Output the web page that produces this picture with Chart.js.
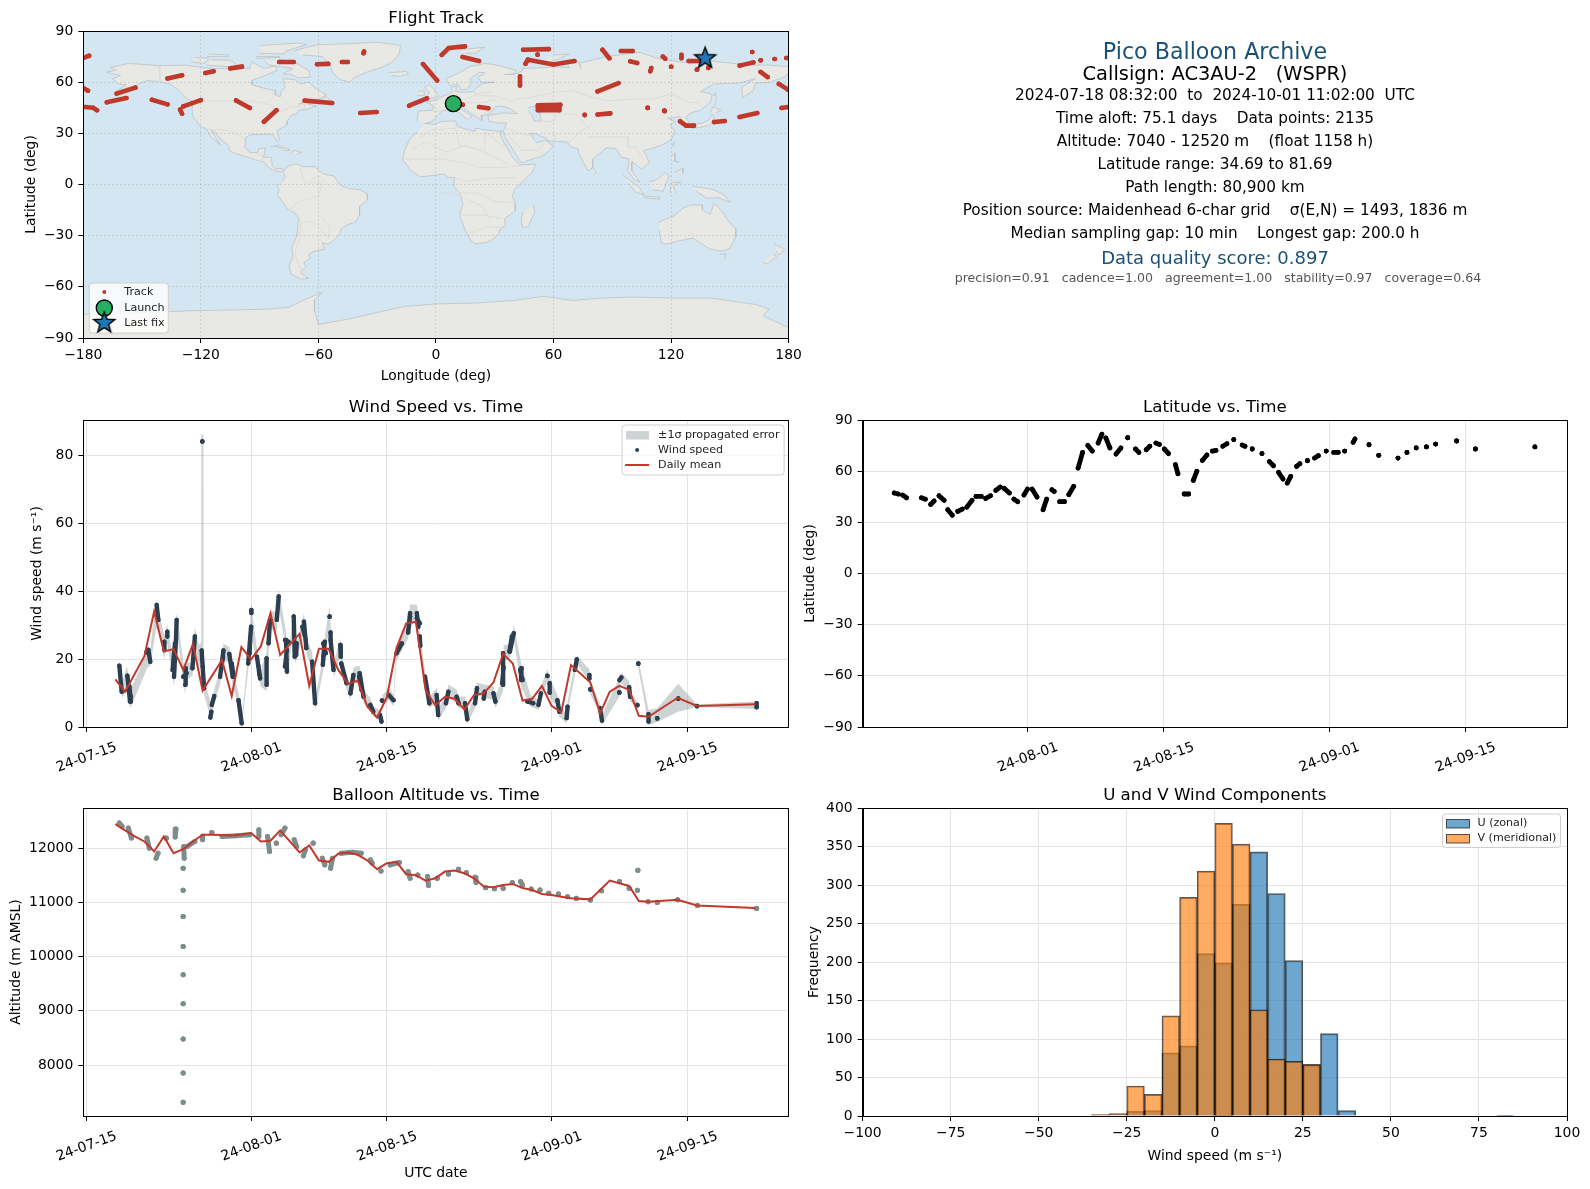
<!DOCTYPE html>
<html>
<head>
<meta charset="utf-8">
<title>Pico Balloon Archive</title>
<script src="https://cdn.jsdelivr.net/npm/chart.js@4"></script>
<style>
html, body { margin: 0; padding: 0; background: #fff; }
#page { position: relative; width: 1590px; height: 1189px; overflow: hidden; font-family: "DejaVu Sans", sans-serif; }
canvas { position: absolute; }
.info { position: absolute; left: 790px; width: 850px; text-align: center; white-space: pre; transform: translateY(-50%); color: #000; font-size: 15.3px; line-height: 1; }
</style>
</head>
<body>
<div id="page">
  <canvas id="trackChart" style="left:0;top:5px" width="845" height="383"></canvas>
  <canvas id="windChart" style="left:0;top:394px" width="845" height="395"></canvas>
  <canvas id="altChart" style="left:0;top:782px" width="845" height="404"></canvas>
  <canvas id="latChart" style="left:790px;top:394px" width="800" height="395"></canvas>
  <canvas id="histChart" style="left:790px;top:782px" width="800" height="404"></canvas>
  <div class="info" style="top:51px;font-size:22.2px;color:#1a5276">Pico Balloon Archive</div>
  <div class="info" style="top:74px;font-size:19.4px">Callsign: AC3AU-2   (WSPR)</div>
  <div class="info" style="top:96px">2024-07-18 08:32:00  to  2024-10-01 11:02:00  UTC</div>
  <div class="info" style="top:118.5px">Time aloft: 75.1 days    Data points: 2135</div>
  <div class="info" style="top:141.5px">Altitude: 7040 - 12520 m    (float 1158 h)</div>
  <div class="info" style="top:164.5px">Latitude range: 34.69 to 81.69</div>
  <div class="info" style="top:187.5px">Path length: 80,900 km</div>
  <div class="info" style="top:210.5px">Position source: Maidenhead 6-char grid    σ(E,N) = 1493, 1836 m</div>
  <div class="info" style="top:233.5px">Median sampling gap: 10 min    Longest gap: 200.0 h</div>
  <div class="info" style="top:257.5px;font-size:18px;color:#1a5276">Data quality score: 0.897</div>
  <div class="info" style="top:278px;left:793px;font-size:12.55px;color:#555">precision=0.91   cadence=1.00   agreement=1.00   stability=0.97   coverage=0.64</div>
</div>
<script>
// days are counted from 2024-07-15 00:00 UTC
var dateTicks = [0, 17, 31, 48, 62];
var dateTickLabels = ["24-07-15", "24-08-01", "24-08-15", "24-09-01", "24-09-15"];
var lonTicks = [-180, -120, -60, 0, 60, 120, 180];
var latTicks = [-90, -60, -30, 0, 30, 60, 90];
var windTicks = [0, 20, 40, 60, 80];
var altTicks = [8000, 9000, 10000, 11000, 12000];
var histTicks = [-100, -75, -50, -25, 0, 25, 50, 75, 100];
var freqTicks = [0, 50, 100, 150, 200, 250, 300, 350, 400];

// track, [lon, lat] runs split by null
var trackLon = [-180,-177,null,-180,-177.6,null,-179,-175,-173,null,-168,-158,null,-163,-153.4,null,-145,-137,null,-130.6,-129.6,null,-129,-120,null,-137,-129.6,null,-117.7,-113.5,null,-105,-99,null,-102,-95,null,-87.8,-81.4,null,-80,-72.6,null,-67,-53,null,-60.7,-55,null,-48,-45,null,-37,-36.7,null,-38.6,-30.3,null,-13.7,-4.6,null,-6.6,0.6,null,3,6.5,14.8,null,13.6,22,null,13.6,13.7,null,22,26.7,null,42.9,42.9,null,44.5,57.6,null,51.9,51.9,null,45.7,46.9,60,70.7,null,52,63.5,null,52,63,null,52,63,null,75.9,75.9,null,82.5,89,null,82.5,93.2,null,85,88.5,null,94.4,100.4,null,99.2,102.7,null,109.4,109.9,null,108,108.2,null,116.5,116.7,null,115.8,117,null,120,120.2,null,125.3,125.3,null,129,138.4,null,133.2,133.3,null,139,139.1,null,124.6,127.7,131.7,null,142,147.4,null,155,164,null,161.4,161.5,null,165.7,165.8,null,155,162,null,165.7,169.3,null,172.8,173,null,178.8,180,null,175,179.7,null,176.4,179.7];
var trackLat = [74.2,75.5,null,56.6,55,null,45.4,45,43.5,null,48.2,50.7,null,53.3,56.8,null,49.7,47,null,43.9,41.5,null,45.8,49.5,null,62.2,64,null,65.4,66.4,null,68.1,69.1,null,49.3,44.9,null,36.8,43.5,null,71.8,71.8,null,49.2,47.8,null,70.5,70.7,null,71.8,71.8,null,77,78,null,41.9,42.5,null,46.2,50.5,null,70.6,61,null,76,80,81,null,74.8,72.4,null,46.8,46.8,null,45.4,44.7,null,63.4,58.1,null,79,79.4,null,76.1,76.2,null,70.8,73.2,70.3,72.4,null,46.5,46.8,null,45,45.2,null,43.5,43.6,null,40.7,40.8,null,41,41.7,null,54.6,59.5,null,79,74,null,78.3,78.3,null,72.2,71.2,null,66.4,68.3,null,44.9,44.9,null,43.3,43,null,75,73.8,null,69,69,null,76,74,null,72.4,72.4,null,67.3,67.5,null,68.3,68.5,null,37,34.5,34.5,null,36.6,37.2,null,39.6,41.9,null,77.7,77.7,null,72.8,72.8,null,69.7,71.6,null,66,63,null,73.6,73.6,null,74.2,74.2,null,59,55.6,null,44.9,45.4];
var launchLon = [8.9], launchLat = [47.4];
var lastFixLon = [137.4], lastFixLat = [74];

// wind speed runs
var windDay = [3.41,3.65,null,4.24,4.51,null,4.3,4.6,null,4.45,4.6,null,6.2,6.4,6.6,null,7.26,7.43,null,8.05,8.05,null,8.36,8.36,null,9.05,9.25,9.32,null,9.15,8.9,null,10.2,10.25,null,10,10.35,null,10.95,11.2,null,11.97,11.97,null,11.9,12,12.15,null,13.2,12.95,null,12.9,12.8,null,13.8,14.15,null,14.1,13.9,null,14.75,15.1,null,15,15.2,null,15.7,16.03,null,16.7,17,null,16.9,16.85,null,17.03,17.03,null,17.6,17.93,null,17.75,17.85,null,18.6,18.6,null,18.8,18.95,null,19.65,19.85,null,20.6,20.7,null,20.5,20.85,null,20.7,20.5,null,21.5,21.4,null,21.7,21.65,null,22.45,22.7,null,22.3,22.65,null,23.3,23.6,null,24.4,24.6,24.45,null,24.45,24.7,null,25.1,25.1,null,25.2,25.2,25.5,null,26.2,26.25,null,26.3,26.85,null,27.25,27.55,null,28.2,28.6,null,28.15,28.4,null,29.3,29.6,null,30.3,30.45,null,30.5,30.55,null,31.2,31.7,null,32,32.55,null,33.2,33.4,null,33.4,33.2,null,34.1,34.25,null,34.1,34.4,null,34.4,34.45,null,34.94,35.39,null,36.14,36.3,null,37.35,37.1,null,38.2,38.4,null,39.07,39.3,null,40.1,40.3,null,41.1,41,null,42,42.2,null,43,43,null,43.05,42.9,null,43.7,44.1,null,43.9,43.65,null,44.9,44.85,null,44.75,45,null,45.5,46.1,null,46.65,46.9,null,47.56,47.57,null,47.8,47.8,null,48.6,48.8,null,49.65,49.55,null,50.6,50.4,null,51.9,51.9,null,52,52,null,53,53.2,null,55,55.2,null,54.99,54.99,null,56,56.1,null,56.85,56.85,null,56.95,56.95,null,58,58,null,58.9,58.9,null,61.07,61.07,null,63,63,null,69.15,69.15];
var windSpeed = [18,10.4,null,15.1,7.5,null,11,9,null,11.9,7.5,null,22,22.7,19.2,null,35.9,31.5,null,25.1,22.7,null,28,26.6,null,14.8,25.6,31.5,null,24.6,16.8,null,12.4,17.3,null,14.8,15.8,null,17.3,26.6,null,84,84,null,22.5,17.8,11.4,null,9.1,6.5,null,4.5,2.8,null,14.8,22.5,null,20.5,17,null,21.5,14.8,null,18.7,14.8,null,7.9,1.1,null,18.7,29.5,null,25.6,21.7,null,34.4,33.5,null,20.7,14.3,null,18,15.5,null,20.2,12.4,null,24.6,31.5,null,31.5,38.4,null,25.6,16.3,null,25.6,25.1,null,22.7,17.8,null,20.7,32.5,null,24.6,21.2,null,31,23.2,null,29.5,25.6,null,19.2,7,null,18.3,25.1,20.7,null,24.6,21.7,null,32.5,32.4,null,27.8,25.6,16.8,null,24.1,20.7,null,18.7,12.9,null,9.9,15.3,null,15.8,8.9,null,14.8,10.9,null,6.5,4.5,null,3.5,1.6,null,7.8,7.7,null,9.4,7.9,null,21.7,24.6,null,28,33.5,null,32.5,27.8,null,33.5,29.5,null,32,30.5,null,26.6,23.9,null,14.8,7,null,9.4,3.5,null,10.4,7,null,8.9,7,null,7,2.3,null,7,11.4,null,10.4,8.4,null,9.9,7.5,null,12.4,21.7,null,17.6,12.9,null,22.2,27.6,null,26.6,22.2,null,17.3,13.8,null,16.8,13.8,null,7.5,7,null,6.5,9.9,null,15.1,15,null,12.9,10.1,null,7.9,4.5,null,6,2.6,null,19.9,16.8,null,15.3,14.3,null,11.1,11,null,5.5,1.9,null,13.8,14.6,null,10.2,10.1,null,11.7,8.9,null,6.5,6.4,null,18.7,18.6,null,3.8,1.6,null,2.6,2.5,null,8.4,8.3,null,6.2,6.1,null,7,5.8];

// +/- 1 sigma band
var bandDay = [3.3,3.7,4.2,4.55,5.5,6.3,6.6,7.2,7.45,8.05,8.35,9.05,9.3,9.35,10.2,10.3,10.95,11.2,11.6,11.85,11.86,12.08,12.09,12.15,12.9,13.2,13.8,14.15,14.75,15.1,15.7,16.05,16.7,17,17.6,17.95,18.6,18.95,19.65,19.85,20.6,20.75,21.4,21.55,22.45,22.75,23.3,23.65,24.4,24.65,25.1,25.25,25.55,26.2,26.35,26.85,27.25,27.55,28.2,28.6,29.3,29.6,30.3,30.45,30.55,31.2,31.7,32,32.55,33.2,33.4,34.1,34.3,34.45,34.95,35.4,36.15,36.3,37.1,37.35,38.2,38.4,39.1,39.3,40.1,40.3,41.1,42,42.2,43,43.05,43.7,44.1,44.85,45.8,46.65,46.9,47.56,47.8,48.6,48.8,49.55,49.65,50.4,50.6,51.9,52,53,53.2,54.99,55.2,56,56.1,56.85,56.95,58,58.9,61.07,63,69.15];
var bandLow = [15,8.5,11,5.5,12,17.5,18,29,28,20,24.5,12,20,28,9.5,14,15,23,17,20,20,18,18,9.5,2,7,12.5,19.5,19,12,6,0.5,16.5,27,18.5,12,10.5,29,28,35,23,14.5,29,18.5,28,21,17,5,16,22.5,29,23,14.5,21.5,16.5,11,8,13.5,14,7,5,3,2,0.5,6,8,6,19.5,22.5,26,31,31,27,21.5,13,5.5,7.5,2,5.5,8.5,7,5.5,5.5,1,5.5,9.5,8.5,8,5.5,10.5,19.5,20,25.5,12,6,5,8,13.5,8.5,6,3,1,4.5,15,18.5,13.5,9.5,4,0.5,9,13,10,7.5,5.5,17.5,0.5,1.5,4.5,5.9,5.3];
var bandHigh = [20,13,18,11,17,24,23,37.5,34,27,30,18,33,33.5,15,19,19,29.5,24,25,86,86,23,14,6.5,11,17,24.5,23.5,17,10,3,21,36.5,23,16.5,22,34,34,40.5,28,19,34.5,23,33.5,26,22,9,20,27.5,35.5,28,19,26,21,15,12,17.5,18,11,8.5,6,5,3,9.5,11.5,9.5,24,27,30,36,36,32,26.5,16.5,9,11.5,5.5,9,12.5,11,9,9,4,9,13,12.5,12,9.5,14,24,24.5,30,19,9.5,8,12,17,14.5,9.5,6,4,7.5,18.5,21,17,13,7,3.5,14.5,16,13.5,10.5,7.5,20,5,5.5,12.7,6.6,7.5];

// daily mean of wind speed
var meanWindDay = [3,4,6,7,8,9,10,11,12,14,15,16,17,18,19,20,22,23,24,25,26,27,28,29,30,31,32,33,34,35,36,37,38,39,40,41,42,43,44,45,46,47,48,49,50,52,53,54,55,56,57,58,61,63,69];
var meanWind = [14,10.4,20.9,34,22.2,22.9,16.8,24.4,10.7,19.7,9.1,23.5,19.9,23.7,33.5,21.2,27.4,12.1,23,23,16.8,12.7,13.6,6,2.8,8.7,23.2,30.5,30.9,10.9,6.4,8.9,8.3,5.2,9.4,9.9,13.1,21.5,18.7,7.8,8.3,12.1,6.2,4.3,18.2,13.1,4,10.4,12.1,10.9,3.3,3,8.6,6.2,6.7];

// latitude runs
var latDay = [3.3,3.7,null,4.15,4.57,null,6.1,6.5,null,7.04,7.4,null,7.9,8.43,null,8.8,9.27,null,9.83,10.3,null,10.76,11.3,null,11.7,12.25,null,12.7,13.2,null,13.74,14.2,null,14.6,15.14,null,15.6,16,null,16.63,17,null,17.47,17.98,null,18.6,18.96,null,19.5,19.75,null,20.3,20.8,null,21.24,21.75,null,22.2,22.66,null,23.2,23.66,null,24.26,24.64,null,25.05,25.47,null,26.1,26.6,null,27.3,27.3,null,28.1,28.45,null,29.2,29.57,null,30.2,30.55,null,31.06,31.5,null,32.2,32.46,null,33.1,33.57,null,34.04,34.4,null,34.97,35.44,null,36,36.37,null,37.07,37.5,null,38.2,38.2,null,39.07,39.35,null,40.1,40.1,null,41.1,41.1,null,41.86,42.28,null,42.8,43.26,null,43.7,44.05,null,44.65,45,null,45.77,45.77,null,46.5,46.9,null,47.7,47.7,null,48.47,48.94,null,49.6,49.6,null,50.47,50.66,null,52.1,52.1,null,53.1,53.1,null,55.08,55.08,null,56,56,null,56.95,56.95,null,58,58,null,58.95,58.95,null,61.1,61.1,null,63.04,63.04,null,69.15,69.15];
var latValue = [47.2,46.6,null,46,44.4,null,44.4,43.6,null,40.5,42.5,null,45.6,42.9,null,37.4,34.2,null,36.4,37.8,null,38.9,42.9,null,45.2,45.2,null,44,45.6,null,48.7,50.7,null,49.9,47.2,null,43.6,42.1,null,46,49.5,null,49.5,44.8,null,37.4,43.6,null,49.1,48.1,null,42.1,42.1,null,46.2,51.1,null,61.8,71,null,75.1,71.8,null,76.5,81.7,null,79.5,73.6,null,70,73.6,null,79.6,79.6,null,73,71,null,72.6,74.6,null,76.5,75.7,null,73,70.3,null,63.8,58.5,null,46.6,46.6,null,54.6,59.9,null,66.3,69.5,null,71.8,72.2,null,74.6,76.1,null,78.5,78.5,null,75.3,74.6,null,73,73,null,70.3,70.3,null,65.6,63.2,null,59.3,55.4,null,53,56.9,null,62.8,64.4,null,66.1,66.1,null,67.7,69.1,null,71.8,71.8,null,71,71,null,71.8,71.8,null,76.9,78.9,null,75.5,75.5,null,69.3,69.3,null,67.7,67.7,null,71,71,null,73.6,73.6,null,74.2,74.2,null,75.9,75.9,null,77.7,77.7,null,73,73,null,74.2,74.2];

// altitude runs
var altDay = [3.4,3.7,null,4.33,4.65,null,6.25,6.5,null,7.2,7.4,null,8.25,8.25,null,9.25,9.17,null,10.05,10.1,null,9.99,9.99,null,9.99,9.99,null,9.99,9.99,null,9.99,9.99,null,9.99,9.99,null,9.99,9.99,null,9.99,9.99,null,9.99,9.99,null,9.99,9.99,null,10.4,11.2,null,12,12,null,12.95,12.95,null,14,15.45,16.85,null,17.8,17.8,null,18.7,18.9,null,19.6,19.6,null,20.5,20.1,null,21.45,21.7,null,22.4,22.6,null,23.4,23.4,null,24.35,24.6,null,25.2,25.4,null,26.3,27.45,28.37,null,29.3,29.5,null,30.4,30.4,null,31.35,32.3,null,33.2,33.4,null,34.2,34.2,null,35.2,35.3,null,36.2,36.2,null,37.35,37.35,null,38.4,38.4,null,39.2,39.2,null,40.1,40.2,null,41.2,41.2,null,42.1,42.1,null,43,43,null,43.95,43.95,null,44.8,45,null,45.9,45.9,null,46.8,46.8,null,47.7,47.7,null,48.7,48.7,null,49.65,49.65,null,50.55,50.55,null,52,52,null,53.15,53.15,null,55,55,null,56,56,null,56.9,56.9,null,56.85,56.85,null,57.95,57.95,null,58.9,58.9,null,61,61,null,63.05,63.05,null,69.15,69.15];
var altValue = [12463,12401,null,12370,12185,null,12185,12000,null,11815,11907,null,12185,12184,null,12352,12204,null,12030,11815,null,11630,11629,null,11222,11221,null,10741,10740,null,10185,10184,null,9667,9666,null,9130,9129,null,8481,8480,null,7852,7851,null,7315,7314,null,12030,12123,null,12154,12220,null,12290,12289,null,12216,12228,12247,null,12340,12216,null,12216,11938,null,12093,12092,null,12370,12247,null,12154,12030,null,11858,11969,null,12093,12092,null,11815,11691,null,11630,11815,null,11907,11926,11907,null,11784,11722,null,11580,11579,null,11691,11735,null,11568,11444,null,11506,11505,null,11475,11309,null,11444,11443,null,11525,11524,null,11611,11610,null,11549,11548,null,11463,11364,null,11272,11271,null,11253,11252,null,11259,11258,null,11364,11363,null,11383,11321,null,11247,11246,null,11228,11227,null,11167,11166,null,11154,11153,null,11105,11104,null,11074,11073,null,11043,11042,null,11216,11215,null,11383,11382,null,11259,11258,null,11593,11592,null,11222,11221,null,11012,11011,null,11000,10999,null,11049,11048,null,10944,10943,null,10889,10888];
var meanAltDay = [3,4,5,6,7,8,9,10,11,12,13,14,15,16,17,18,19,20,21,22,23,24,25,26,27,28,29,30,31,32,33,34,35,36,37,38,39,40,41,42,43,44,45,46,47,48,49,50,52,54,56,57,58,61,63,69];
var meanAlt = [12444,12327,12216,12123,11938,12216,11907,11981,12123,12247,12247,12241,12235,12253,12278,12123,12136,12327,12123,11920,12049,11772,11747,11895,11920,11877,11772,11611,11722,11747,11519,11500,11401,11444,11568,11586,11537,11444,11290,11278,11321,11340,11265,11228,11154,11136,11105,11074,11055,11401,11302,11025,11012,11049,10944,10895];

// histogram, 5 m/s bins from -100 to 100
var binCenters = [-97.5,-92.5,-87.5,-82.5,-77.5,-72.5,-67.5,-62.5,-57.5,-52.5,-47.5,-42.5,-37.5,-32.5,-27.5,-22.5,-17.5,-12.5,-7.5,-2.5,2.5,7.5,12.5,17.5,22.5,27.5,32.5,37.5,42.5,47.5,52.5,57.5,62.5,67.5,72.5,77.5,82.5,87.5,92.5,97.5];
var uCounts = [0,0,0,0,0,0,0,0,0,0,0,0,0,0,0,6,7,82,91,211,199,275,343,289,202,66,107,7,0,0,0,0,0,0,0,0,1,0,0,0];
var vCounts = [0,0,0,0,0,0,0,0,0,0,0,0,0,2,3,39,28,130,284,318,380,353,138,74,71,67,0,0,0,0,0,0,0,0,0,0,0,0,0,0];

// land outlines, flat lon,lat lists
var northAmerica = [-168,66,-163,67,-166,68.5,-157,71,-141,69.7,-128,70,-115,68,-108,68,-95,68,-94,72,-88,68,-82,69.5,-81,67,-87,64,-94,61,-94,58.7,-88,56.5,-82,55,-82,52.5,-79.5,51.5,-79,54.5,-77,57,-78,62,-72,61.5,-69,59,-65,60,-61,56,-56,52.5,-60,50,-66,50,-70,47,-65,49,-65,47,-61,46,-66,44,-70,43.5,-71,41.5,-74,40.5,-76,37,-76,35,-81,31.5,-80,26,-81,25.2,-83,29,-85,29.7,-90,29.2,-94,29.5,-97,27.5,-97.5,22,-95,18.5,-91,18.8,-90.5,21,-87,21.5,-88,16,-84,15.8,-83.5,11,-82,9,-79.5,9.5,-77.5,8.5,-78,7.5,-80,7.5,-83,8.3,-85.5,10,-87.5,13,-92,14.5,-96,16,-102,18,-105.5,20,-105.5,22.5,-109,25.5,-113,31,-114.8,31.7,-112,26.5,-110,23.2,-112,25,-115,28,-117,32.5,-120.5,34.5,-124,40,-124.5,44,-124,48.5,-128,51,-131,55,-135,58.5,-140,60,-147,61,-151,59.5,-153,58,-158,56.5,-163,54.8,-158,58.5,-162,59,-165,62,-161,64,-168,65.7];
var greenland = [-73,78,-66,80.5,-60,82,-45,82.5,-30,83.5,-18,81.5,-19,76,-22,72,-27,69,-35,66,-42,62.5,-44,60,-49,61.5,-53,66,-54,70,-58,75,-68,76];
var baffin = [-80,73.5,-72,71.5,-65,67,-64,63,-70,62.5,-74,64.5,-78,65,-73,68,-85,70,-88,73];
var victoriaIsland = [-117,70,-105,69,-101,69.5,-105,73,-115,73];
var banksIsland = [-125,72,-118,71,-116,74,-123,74.5];
var ellesmere = [-90,77,-78,76.5,-76,78.5,-66,82,-70,83,-90,81.5];
var devonIsland = [-92,75,-80,75,-80,74.5,-92,74];
var melvilleIsland = [-117,75,-106,75,-106,76,-116,76.5];
var newfoundland = [-59,47.7,-53,46.7,-53,48.5,-56,51.5,-58,50];
var cuba = [-84.5,22,-80,23,-74.5,20.2,-77.5,19.9,-78,21,-82,22.5];
var hispaniola = [-74.3,18.5,-72,20,-68.5,18.8,-71,18];
var southAmerica = [-77.5,8.5,-75,11,-72,12,-70,11.7,-68,10.5,-62,10.5,-60,8.5,-57,6,-52,5,-50,1,-48,-1,-44,-2.5,-39,-3,-35,-5.5,-35,-9,-39,-13,-39,-18,-41,-22,-45,-23.5,-48.5,-26,-49,-29,-53,-33.5,-55,-35,-58,-34.3,-57,-38,-62,-39,-65,-41,-64,-43,-67.5,-46,-66,-48,-69,-51,-68.5,-52.5,-65,-55,-69,-55.5,-74,-52.5,-75,-48,-73,-42,-73.5,-37,-71,-30,-70,-20,-72,-17,-76,-14,-81,-6,-80,-3,-81,-1,-78.5,2,-77,4,-77.5,7];
var africa = [-6,35.8,-1,35.2,3,37,10,37.3,11,34,15,32.5,20,31,20,33,25,32,32,31.2,34,31.3,32.5,30,35,24,37.2,20,39,16,43,11.5,51,12,49,7,44,1.5,40,-3,39,-7,40.5,-11,40.5,-15.5,35,-20,35.5,-24,32.8,-26,32,-29,28,-33,25.5,-34,20,-34.8,18,-33,15,-27,12,-18,13.8,-11,12,-5,9,-1,9.5,4,6,4.3,4.5,6.2,-4,5,-8,4.5,-13,8.5,-17,14.7,-16,20,-13,27.5,-9.5,30.5];
var eurasia = [-9,37,-9.5,38.7,-9,43,-2,43.5,-1,46,-4.5,48.3,1,50,4,52,8.5,54,8,57,10.5,57.5,10,54.5,14,54,19,54.5,21,57,24,59.3,30,60,23,60,21.5,63,25,65.5,22,65.8,17.5,62,18,59.5,16,56,13,55.5,11,59,7,58,5,62,12,65.5,17,69,25,71,31,70,41,67,40,65,35,64.5,40,64.5,44,66.5,44,68,54,68.5,60,69,68,68.5,67,71,73,72,74,68,73,71,80,73,87,75,104,77.5,113,74,130,71,140,72.5,160,70,170,70,180,69,180,65,177,62.5,170,60,163,59.5,162,55,156.5,51,156,57,163,62,155,59.5,142,59,135,54.5,141,53,140,48,135,43.5,130,42,127.5,39.5,129.5,36,126.5,34.5,126,37,124.5,40,121,39,118,39,122,37,119.5,35,122,31,120,26,114,22.5,110,21,106,20,109,13,105,9,100,13.5,100,8,104,1.5,101,3,98,8,98.5,15,94.5,16,92,21,87,21.5,80,15,80,10,77.5,8,73,18,72.5,21,69,22,67,25,57,25.5,56.5,27,51,29.5,48,30,50,26.5,51.5,24.5,56,26,59.8,22.5,55,17,43.5,12.7,39,21,35,28,34.5,31.5,36,36,32,36,27,37,26.5,40.5,35,42,41.5,41.5,37,45,33,46,30,45.5,28,42,26,41,23,40.5,23.5,37.5,20,40,13.5,45.5,12.3,44.5,18.5,40,16,38,12,42,8.5,44.3,3,43,0,39.5,-2,36.7,-5.5,36];
var britain = [-5.5,50,1.5,51.5,0,54,-3,58.5,-6,57,-3,54,-5,52];
var ireland = [-10,52,-6,52.3,-6,55,-9,54.5];
var iceland = [-24,65.5,-15,66.3,-14,64.7,-19,63.4,-22.5,64];
var svalbard = [12,79,25,80.5,20,77,15,77];
var novayaZemlya = [52,71,57,71,68,76.5,60,76];
var madagascar = [49.5,-12,50.5,-16,47,-25,44,-25,43.5,-20,44.5,-16];
var sriLanka = [80,9.7,82,7,80.5,6];
var honshu = [130,33,135,33.5,140,35,142,39.5,141,41.3,139.5,38,136,36,132,35.3];
var hokkaido = [140,42,141.5,45.5,145.5,43.5,143,42];
var sakhalin = [142,46,143,49,142.7,54,142,52];
var taiwan = [120.5,23,121.7,25,121,22];
var luzon = [120,16,122,18.5,122,14,124,13,121,14];
var mindanao = [122,7,126,9.5,126,6.5];
var borneo = [109,1.5,113,3,117,7,119,5,117.5,1,116,-4,110.5,-3];
var sumatra = [95.5,5.5,104,-2,106,-6,102,-4.5,98,1];
var java = [105.5,-6.5,114.5,-7.5,114,-8.7,106,-7.5];
var sulawesi = [119.5,-5.5,120,1,125,1.5,121,-1,122.5,-5];
var newGuinea = [131,-1,141,-2.7,147,-6,150.5,-10.5,144,-7.7,138,-8,133,-4];
var australia = [114,-22,122,-18,126,-14,130,-12,136,-12,136,-15,140,-17.5,142,-11,145.5,-15,149,-21,153,-26,153,-31,150,-37.5,146,-39,140,-38,136,-35,131,-31.5,124,-33,118,-35,115,-34.3,114,-27];
var tasmania = [145,-41,148,-41,147,-43.5];
var newZealandNorth = [173,-35,178,-38,175,-41.5,174,-39];
var newZealandSouth = [172,-41,174,-42,169,-46.7,167,-45.5];
var antarctica = [-180,-90,-180,-76,-145,-75,-125,-74,-100,-73.5,-85,-73,-75,-72,-68,-68,-58,-63.2,-62,-68,-62,-74,-60,-82,-45,-79,-30,-75,-16,-71.5,0,-70,20,-69.5,40,-68,55,-65.6,70,-68,85,-66.5,100,-66,120,-66.5,140,-66.5,164,-70.5,170,-73,167,-77,180,-84,180,-90];
var caspian = [47,45,53,46.5,53,41,54,37,50,37.5,49,40.5,47,43];
var landShapes = [northAmerica, greenland, baffin, victoriaIsland, banksIsland, ellesmere, devonIsland, melvilleIsland, newfoundland, cuba, hispaniola, southAmerica, africa, eurasia, britain, ireland, iceland, svalbard, novayaZemlya, madagascar, sriLanka, honshu, hokkaido, sakhalin, taiwan, luzon, mindanao, borneo, sumatra, java, sulawesi, newGuinea, australia, tasmania, newZealandNorth, newZealandSouth, antarctica];

// a few country borders, runs split by null
var borderLon = [-141,-141,null,-123,-95,-89,-83,-82.5,-79,-75,-70,-67,-67,null,-117,-106.5,-101,-97,null,-92,-89,-88,null,-70,-67,-58,-60,-70,-74,-70,null,-70,-69,-70,-72,-71,-68,null,-58,-54,-55,-58,-62,-68,null,-53,-57,-60,-65,null,-8,-2,10,12,25,25,35,null,-12,-5,5,15,24,37,null,-17,-5,3,14,22,34,43,null,9,15,30,35,41,null,12,22,30,34,40,null,12,20,25,33,null,17,25,33,null,2,8,15,24,28,null,40,48,60,70,80,88,98,110,120,130,135,null,50,60,62,72,78,null,60,62,67,75,80,null,78,88,98,98,null,98,102,106,null,36,42,48,null,36,44,52,55,null,-2,3,8,null,6,15,24,30,null,15,24,28,null,14,19,24,30,40,null,24,30,28];
var borderLat = [69.7,60,null,49,49,48,46,42,43,45,46,47.5,45,null,32.5,31.8,29.5,26,null,17.5,17.5,14,null,12,1,1,-7,-10,-14,-18,null,-18,-23,-33,-40,-45,-52,null,-20,-25,-32,-27,-22,-22,null,-2,2,5,2,null,28,32,33,23,20,31,22,null,21,25,19,23,19,12,null,15,15,15,13,10,10,11,null,4,2,4,4,4,null,-5,-5,-10,-10,-11,null,-18,-18,-18,-20,null,-29,-25,-25,null,-5,-5,-8,-13,-22,null,50,51,54,55,51,49,50,50,53,48,48,null,37,37,42,41,33,null,30,25,24,32,35,null,28,28,28,22,null,22,22,14,null,33,30,29,null,30,20,20,24,null,43,43,49,null,47,48,48,50,null,50,54,54,null,54,54,52,52,48,null,42,44,40];

var INK = "#000";
var GRID = "#e4e4e4";
var RED = "#c0392b";
var NAVY = "#2c3e50";
var SLATE = "#7f8c8d";
var MINUS = "\u2212";

function pairs(xs, ys) {
    return xs.map(function (x, i) { return { x: x, y: ys[i] }; });
}

function flatPairs(list) {
    var out = [];
    for (var i = 0; i < list.length; i += 2) out.push({ x: list[i], y: list[i + 1] });
    return out;
}

function minusLabel(v) {
    return String(v).replace("-", MINUS);
}

function useTicks(list) {
    return function (s) { s.ticks = list.map(function (v) { return { value: v }; }); };
}

function starImage(outer, fill) {
    var c = document.createElement("canvas");
    var s = outer * 2 + 4;
    c.width = s; c.height = s;
    var g = c.getContext("2d");
    g.beginPath();
    for (var i = 0; i < 10; i++) {
        var r = i % 2 ? outer * 0.42 : outer;
        var a = -Math.PI / 2 + i * Math.PI / 5;
        g.lineTo(s / 2 + r * Math.cos(a), s / 2 + r * Math.sin(a));
    }
    g.closePath();
    g.fillStyle = fill; g.fill();
    g.strokeStyle = "#000"; g.lineWidth = 1.4; g.lineJoin = "miter"; g.stroke();
    return c;
}
var starMark = starImage(11, "#1f77b4");

// frame round the plot, ocean colour, and the boxed legend
var framePlugin = {
    id: "frame",
    beforeDraw: function (chart, args, opts) {
        if (!opts.ocean) return;
        var a = chart.chartArea;
        chart.ctx.fillStyle = opts.ocean;
        chart.ctx.fillRect(a.left, a.top, a.right - a.left, a.bottom - a.top);
    },
    afterDraw: function (chart) {
        var a = chart.chartArea, c = chart.ctx;
        c.save();
        c.strokeStyle = INK; c.lineWidth = 1;
        c.strokeRect(Math.round(a.left) + 0.5, Math.round(a.top) + 0.5, Math.round(a.right - a.left), Math.round(a.bottom - a.top));
        c.restore();
        var lg = chart.options.plugins.frame.legend;
        if (lg) drawLegend(chart, lg);
    }
};

function drawLegend(chart, lg) {
    var a = chart.chartArea, c = chart.ctx;
    var x = lg.right !== undefined ? a.right - lg.right - lg.w : a.left + lg.left;
    var y = lg.bottom !== undefined ? a.bottom - lg.bottom - lg.h : a.top + lg.top;
    c.save();
    c.beginPath();
    c.roundRect(x, y, lg.w, lg.h, 3);
    c.fillStyle = "rgba(255,255,255,0.8)"; c.fill();
    c.strokeStyle = "#d0d0d0"; c.lineWidth = 1; c.stroke();
    c.font = "11.1px 'DejaVu Sans'";
    c.textBaseline = "middle"; c.textAlign = "left";
    lg.items.forEach(function (it) {
        var my = y + it.y, mx = x + lg.swatch;
        if (it.kind === "patch") {
            c.fillStyle = it.color;
            c.fillRect(x + 4, my - 4, 23, 8.5);
            if (it.edge) { c.strokeStyle = it.edge; c.lineWidth = 1; c.strokeRect(x + 4, my - 4, 23, 8.5); }
        } else if (it.kind === "line") {
            c.strokeStyle = it.color; c.lineWidth = 2;
            c.beginPath(); c.moveTo(x + 3, my); c.lineTo(x + 27, my); c.stroke();
        } else if (it.kind === "dot") {
            c.fillStyle = it.color;
            c.beginPath(); c.arc(mx, my, it.r, 0, Math.PI * 2); c.fill();
            if (it.edge) { c.strokeStyle = it.edge; c.lineWidth = 1.4; c.stroke(); }
        } else {
            c.drawImage(starMark, mx - starMark.width / 2, my - starMark.height / 2);
        }
        c.fillStyle = "#222";
        c.fillText(it.label, x + lg.text, my);
    });
    c.restore();
}
Chart.register(framePlugin);

Chart.defaults.font.family = "'DejaVu Sans'";
Chart.defaults.font.size = 13.9;
Chart.defaults.color = "#000";
Chart.defaults.animation = false;

function fixWidth(w) {
    return function (s) { s.width = w; s.paddingTop = 0; s.paddingBottom = 0; s.paddingLeft = 0; s.paddingRight = 0; };
}
function fixHeight(h) {
    return function (s) { s.height = h; s.paddingTop = 0; s.paddingBottom = 0; s.paddingLeft = 0; s.paddingRight = 0; };
}

function gridOpts(color, extra) {
    return Object.assign({ color: color, lineWidth: 1, tickColor: INK, tickLength: 5, tickWidth: 1, drawTicks: true }, extra || {});
}

function dateAxis(min, h, title) {
    var ax = {
        type: "linear", min: min, max: 72.45,
        afterFit: fixHeight(h),
        afterBuildTicks: useTicks(dateTicks.filter(function (d) { return d >= min; })),
        grid: gridOpts(GRID),
        border: { color: INK, width: 1 },
        ticks: {
            autoSkip: false, minRotation: 20, maxRotation: 20, labelOffset: 30, padding: 7,
            callback: function (v) { return dateTickLabels[dateTicks.indexOf(v)]; }
        }
    };
    if (title) ax.title = title;
    return ax;
}

// top padding moves a left axis title, bottom padding a bottom axis title
function axisTitle(text, pad) {
    return { display: true, text: text, font: { size: 13.9 }, padding: { top: pad, bottom: pad } };
}

function plotTitle(text) {
    return { display: true, text: text, fullSize: false, font: { size: 16.67, weight: "normal" }, padding: { top: 4, bottom: 2 }, color: "#000" };
}

function runs(data, color, width, order) {
    return {
        data: data, showLine: true, borderColor: color, backgroundColor: color, borderWidth: width,
        borderCapStyle: "round", borderJoinStyle: "round", pointRadius: width / 2, pointBorderWidth: 0,
        order: order
    };
}

// flight track map
var mapDatasets = landShapes.map(function (shape) {
    return {
        data: flatPairs(shape), showLine: true, fill: "shape", backgroundColor: "#e8e8e4",
        borderColor: "#bcc3c6", borderWidth: 0.8, pointRadius: 0, order: 10
    };
});
mapDatasets.push({ data: flatPairs(caspian), showLine: true, fill: "shape", backgroundColor: "#d4e6f1", borderColor: "#bcc3c6", borderWidth: 0.8, pointRadius: 0, order: 9 });
mapDatasets.push({ data: pairs(borderLon, borderLat), showLine: true, borderColor: "#d9dbd8", borderWidth: 0.8, pointRadius: 0, order: 8 });
mapDatasets.push(runs(pairs(trackLon, trackLat), RED, 4.6, 3));
mapDatasets.push({ data: pairs(launchLon, launchLat), backgroundColor: "#27ae60", borderColor: "#000", borderWidth: 1.4, pointRadius: 8, order: 2 });
mapDatasets.push({ data: pairs(lastFixLon, lastFixLat), pointStyle: starMark, pointRadius: 11, order: 1 });

new Chart(document.getElementById("trackChart"), {
    type: "scatter",
    data: { datasets: mapDatasets },
    options: {
        responsive: false,
        layout: { padding: { right: 56.4, left: 0, top: 0, bottom: 0 } },
        plugins: {
            legend: { display: false }, tooltip: { enabled: false },
            title: plotTitle("Flight Track"),
            frame: {
                ocean: "#d4e6f1",
                legend: {
                    left: 6, bottom: 5, w: 79, h: 50, swatch: 15, text: 35,
                    items: [
                        { kind: "dot", color: RED, r: 2, label: "Track", y: 9 },
                        { kind: "dot", color: "#27ae60", edge: "#000", r: 8, label: "Launch", y: 25 },
                        { kind: "star", label: "Last fix", y: 40 }
                    ]
                }
            }
        },
        scales: {
            x: {
                type: "linear", min: -180, max: 180, afterFit: fixHeight(50), afterBuildTicks: useTicks(lonTicks),
                grid: gridOpts("rgba(110,120,125,0.2)", { z: 1 }),
                border: { color: INK, dash: [2, 2], z: 1 },
                ticks: { padding: 4, maxRotation: 0, autoSkip: false, callback: minusLabel },
                title: axisTitle("Longitude (deg)", 3)
            },
            y: {
                type: "linear", min: -90, max: 90, afterFit: fixWidth(83.3), afterBuildTicks: useTicks(latTicks),
                grid: gridOpts("rgba(110,120,125,0.2)", { z: 1 }),
                border: { color: INK, dash: [2, 2], z: 1 },
                ticks: { padding: 5, autoSkip: false, callback: minusLabel },
                title: axisTitle("Latitude (deg)", 23)
            }
        }
    }
});

// wind speed
var bandOutline = pairs(bandDay, bandHigh).concat(pairs(bandDay, bandLow).reverse());
new Chart(document.getElementById("windChart"), {
    type: "scatter",
    data: {
        datasets: [
            { data: bandOutline, showLine: true, fill: "shape", backgroundColor: "rgba(127,140,141,0.38)", borderWidth: 0, pointRadius: 0, order: 3 },
            runs(pairs(windDay, windSpeed), NAVY, 4.4, 2),
            { data: pairs(meanWindDay, meanWind), showLine: true, borderColor: RED, borderWidth: 2, pointRadius: 0, order: 1 }
        ]
    },
    options: {
        responsive: false,
        layout: { padding: { right: 56.4 } },
        plugins: {
            legend: { display: false }, tooltip: { enabled: false },
            title: plotTitle("Wind Speed vs. Time"),
            frame: {
                legend: {
                    right: 4.5, top: 5, w: 162, h: 50, swatch: 15, text: 36,
                    items: [
                        { kind: "patch", color: "rgba(127,140,141,0.38)", label: "±1σ propagated error", y: 10 },
                        { kind: "dot", color: NAVY, r: 2, label: "Wind speed", y: 25 },
                        { kind: "line", color: RED, label: "Daily mean", y: 40 }
                    ]
                }
            }
        },
        scales: {
            x: dateAxis(-0.31, 62),
            y: {
                type: "linear", min: 0, max: 90.3, afterFit: fixWidth(83.3), afterBuildTicks: useTicks(windTicks),
                grid: gridOpts(GRID), border: { color: INK },
                ticks: { padding: 5, autoSkip: false, callback: String },
                title: axisTitle("Wind speed (m s\u207B\u00B9)", 29)
            }
        }
    }
});

// altitude
new Chart(document.getElementById("altChart"), {
    type: "scatter",
    data: {
        datasets: [
            runs(pairs(altDay, altValue), SLATE, 5, 2),
            { data: pairs(meanAltDay, meanAlt), showLine: true, borderColor: RED, borderWidth: 2, pointRadius: 0, order: 1 }
        ]
    },
    options: {
        responsive: false,
        layout: { padding: { right: 56.4 } },
        plugins: { legend: { display: false }, tooltip: { enabled: false }, title: plotTitle("Balloon Altitude vs. Time"), frame: {} },
        scales: {
            x: dateAxis(-0.31, 70, axisTitle("UTC date", 4)),
            y: {
                type: "linear", min: 7060, max: 12740, afterFit: fixWidth(83.3), afterBuildTicks: useTicks(altTicks),
                grid: gridOpts(GRID), border: { color: INK },
                ticks: { padding: 5, autoSkip: false, callback: String },
                title: axisTitle("Altitude (m AMSL)", 8)
            }
        }
    }
});

// latitude
new Chart(document.getElementById("latChart"), {
    type: "scatter",
    data: { datasets: [runs(pairs(latDay, latValue), "#000", 4.8, 1)] },
    options: {
        responsive: false,
        layout: { padding: { right: 23 } },
        plugins: { legend: { display: false }, tooltip: { enabled: false }, title: plotTitle("Latitude vs. Time"), frame: {} },
        scales: {
            x: dateAxis(0.05, 62),
            y: {
                type: "linear", min: -90, max: 90, afterFit: fixWidth(72.6), afterBuildTicks: useTicks(latTicks),
                grid: gridOpts(GRID), border: { color: INK },
                ticks: { padding: 5, autoSkip: false, callback: minusLabel },
                title: axisTitle("Latitude (deg)", 12)
            }
        }
    }
});

// histogram of wind components
new Chart(document.getElementById("histChart"), {
    type: "bar",
    data: {
        datasets: [
            { label: "U (zonal)", data: pairs(binCenters, uCounts), backgroundColor: "rgba(31,119,180,0.65)", borderColor: "rgba(0,0,0,0.65)", borderWidth: 1.3, order: 2 },
            { label: "V (meridional)", data: pairs(binCenters, vCounts), backgroundColor: "rgba(255,127,14,0.65)", borderColor: "rgba(0,0,0,0.65)", borderWidth: 1.3, order: 1 }
        ]
    },
    options: {
        responsive: false,
        layout: { padding: { right: 23 } },
        datasets: { bar: { grouped: false, barPercentage: 1, categoryPercentage: 1 } },
        plugins: {
            legend: { display: false }, tooltip: { enabled: false },
            title: plotTitle("U and V Wind Components"),
            frame: {
                legend: {
                    right: 6.5, top: 6, w: 118, h: 33.5, swatch: 15, text: 35,
                    items: [
                        { kind: "patch", color: "rgba(31,119,180,0.65)", edge: "rgba(0,0,0,0.65)", label: "U (zonal)", y: 9.5 },
                        { kind: "patch", color: "rgba(255,127,14,0.65)", edge: "rgba(0,0,0,0.65)", label: "V (meridional)", y: 24.5 }
                    ]
                }
            }
        },
        scales: {
            x: {
                type: "linear", min: -100, max: 100, offset: false, afterFit: fixHeight(70), afterBuildTicks: useTicks(histTicks),
                grid: gridOpts(GRID, { offset: false }), border: { color: INK },
                ticks: { padding: 4, maxRotation: 0, autoSkip: false, callback: minusLabel },
                title: axisTitle("Wind speed (m s\u207B\u00B9)", 21)
            },
            y: {
                type: "linear", min: 0, max: 400, afterFit: fixWidth(72.6), afterBuildTicks: useTicks(freqTicks),
                grid: gridOpts(GRID), border: { color: INK },
                ticks: { padding: 5, autoSkip: false, callback: String },
                title: axisTitle("Frequency", 16)
            }
        }
    }
});
</script>
</body>
</html>
